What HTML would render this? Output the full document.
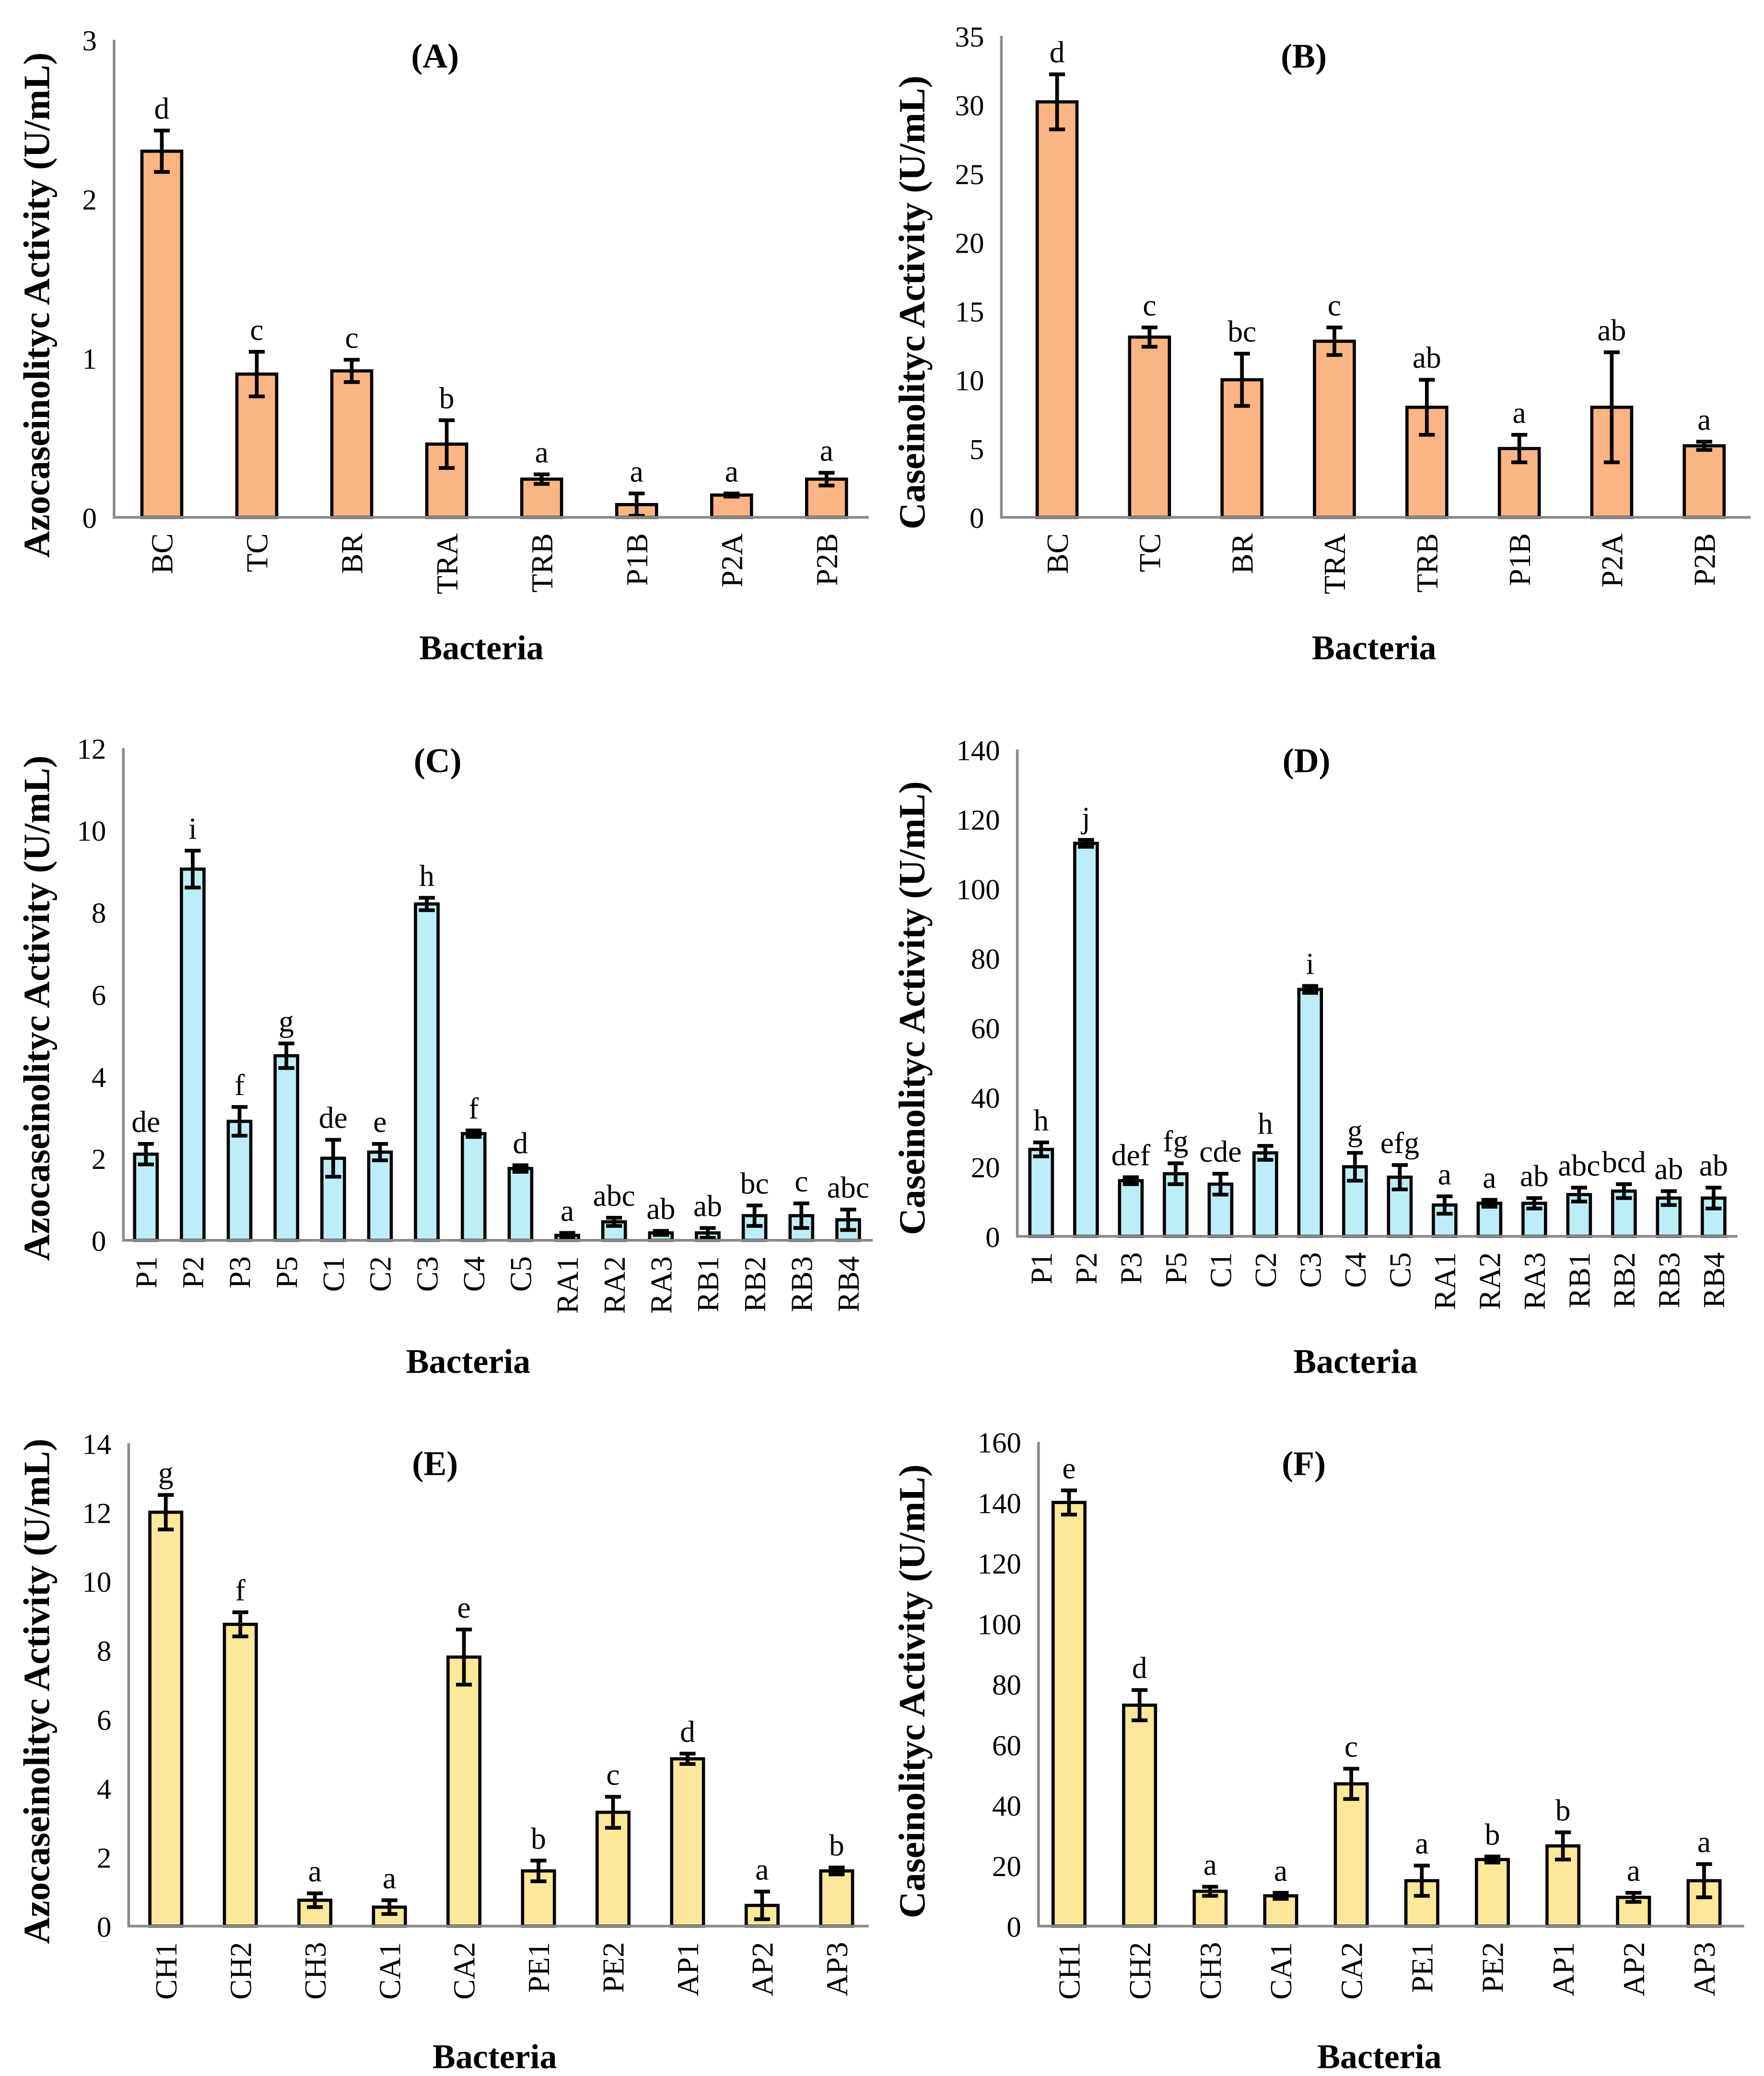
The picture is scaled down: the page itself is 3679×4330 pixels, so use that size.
<!DOCTYPE html>
<html><head><meta charset="utf-8"><style>
html,body{margin:0;padding:0;background:#fff;}
svg{display:block;font-family:"Liberation Serif",serif;}
</style></head><body>
<svg id="fig" xmlns="http://www.w3.org/2000/svg" width="3679" height="4330" viewBox="0 0 1330 1565" preserveAspectRatio="none"></svg>
<script>
// ---- Panel A ----
const catsA = ["BC","TC","BR","TRA","TRB","P1B","P2A","P2B"];
const valsA = [2.30,0.90,0.92,0.46,0.24,0.08,0.14,0.24];
const errsA = [0.13,0.14,0.07,0.15,0.03,0.07,0.01,0.04];
const letsA = ["d","c","c","b","a","a","a","a"];
const ticksA = [0,1,2,3];
// ---- Panel B ----
const catsB = ["BC","TC","BR","TRA","TRB","P1B","P2A","P2B"];
const valsB = [30.2,13.1,10.0,12.8,8.0,5.0,8.0,5.2];
const errsB = [2.0,0.7,1.9,1.0,2.0,1.0,4.0,0.3];
const letsB = ["d","c","bc","c","ab","a","ab","a"];
const ticksB = [0,5,10,15,20,25,30,35];
// ---- Panel C ----
const catsC = ["P1","P2","P3","P5","C1","C2","C3","C4","C5","RA1","RA2","RA3","RB1","RB2","RB3","RB4"];
const valsC = [2.1,9.05,2.9,4.5,2.0,2.15,8.2,2.6,1.75,0.12,0.45,0.18,0.18,0.6,0.6,0.5];
const errsC = [0.25,0.45,0.35,0.3,0.45,0.2,0.15,0.08,0.08,0.06,0.1,0.05,0.12,0.25,0.3,0.25];
const letsC = ["de","i","f","g","de","e","h","f","d","a","abc","ab","ab","bc","c","abc"];
const ticksC = [0,2,4,6,8,10,12];
// ---- Panel D ----
const catsD = ["P1","P2","P3","P5","C1","C2","C3","C4","C5","RA1","RA2","RA3","RB1","RB2","RB3","RB4"];
const valsD = [25,113,16,18,15,24,71,20,17,9,9.5,9.5,12,13,11,11];
const errsD = [2,1,1,3,3,2,1,4,3.5,2.5,1,1.5,2,2,2,3];
const letsD = ["h","j","def","fg","cde","h","i","g","efg","a","a","ab","abc","bcd","ab","ab"];
const ticksD = [0,20,40,60,80,100,120,140];
// ---- Panel E ----
const catsE = ["CH1","CH2","CH3","CA1","CA2","PE1","PE2","AP1","AP2","AP3"];
const valsE = [12.0,8.75,0.75,0.55,7.8,1.6,3.3,4.85,0.6,1.6];
const errsE = [0.5,0.35,0.2,0.2,0.8,0.3,0.45,0.15,0.4,0.1];
const letsE = ["g","f","a","a","e","b","c","d","a","b"];
const ticksE = [0,2,4,6,8,10,12,14];
// ---- Panel F ----
const catsF = ["CH1","CH2","CH3","CA1","CA2","PE1","PE2","AP1","AP2","AP3"];
const valsF = [140,73,11.5,10,47,15,22,26.5,9.5,15];
const errsF = [4,5,1.5,1,5,5,1,4.5,1.5,5.5];
const letsF = ["e","d","a","a","c","a","b","b","a","a"];
const ticksF = [0,20,40,60,80,100,120,140,160];

const NS="http://www.w3.org/2000/svg";
const svg=document.getElementById('fig');
function mk(tag,parent,attrs){const e=document.createElementNS(NS,tag);for(const k in attrs)e.setAttribute(k,attrs[k]);parent.appendChild(e);return e;}

function panel(id,cats,vals,errs,lets,ticks,L,fill,ytitle,title){
  const g=mk('g',svg,{});
  
  
  const ymax=ticks[ticks.length-1];
  const y=v=>L.y0-(v/ymax)*(L.y0-L.yt);
  const x=i=>L.x1+i*L.dx;
  ticks.forEach(t=>{
    const tx=mk('text',g,{x:L.ax-13,y:y(t)+8,'text-anchor':'end','font-size':22,fill:'#000'});
    tx.textContent=t;
    
    
  });
  cats.forEach((c,i)=>{
    const cx=x(i),top=y(vals[i]);
    const r=mk('rect',g,{x:cx-L.bw/2,y:top,width:L.bw,height:L.y0-top,fill:fill,stroke:'#000','stroke-width':2.4});
    
    
    const eh=y(vals[i]+errs[i]),el=y(Math.max(0,vals[i]-errs[i]));
    const eb=mk('path',g,{d:`M${cx},${eh}V${el}M${cx-6},${eh}H${cx+6}M${cx-6},${el}H${cx+6}`,stroke:'#000','stroke-width':2.8,fill:'none'});
    
    
    const lt=mk('text',g,{x:cx,y:eh-9,'text-anchor':'middle','font-size':23,fill:'#000'});
    lt.textContent=lets[i];
    
    
    const xl=mk('text',g,{x:0,y:0,'text-anchor':'end','font-size':23,fill:'#000',transform:`translate(${cx+8},${L.y0+12}) rotate(-90)`});
    xl.textContent=c;
    
    
  });
  const ax=mk('path',g,{d:`M${L.ax},${L.yt}V${L.y0}H${L.xe}`,stroke:'#8a8a8a','stroke-width':2,fill:'none'});
  
  
  const tt=mk('text',g,{x:L.tx,y:L.ty,'text-anchor':'middle','font-size':26,'font-weight':'bold'});
  tt.textContent=title;
  
  
  const yl=mk('text',g,{x:0,y:0,'text-anchor':'middle','font-size':28,'font-weight':'bold',transform:`translate(${L.ylx},${L.yly}) rotate(-90)`});
  yl.textContent=ytitle;
  
  
  const xt=mk('text',g,{x:L.bx,y:L.by,'text-anchor':'middle','font-size':26,'font-weight':'bold'});
  xt.textContent='Bacteria';
  
  
}
const orange='#fbb584',cyan='#bdeef8',yellow='#fde79a';
const az='Azocaseinolityc Activity (U/mL)',ca='Caseinolityc Activity  (U/mL)';
panel('a',catsA,valsA,errsA,letsA,ticksA,{ax:86,xe:655,y0:390,yt:30,x1:122,dx:71.6,bw:30,tx:328,ty:51,ylx:37,yly:230,bx:363,by:497},orange,az,'(A)');
panel('b',catsB,valsB,errsB,letsB,ticksB,{ax:755,xe:1320,y0:390,yt:27,x1:797,dx:69.7,bw:30,tx:983,ty:51,ylx:697,yly:228,bx:1036,by:497},orange,ca,'(B)');
panel('c',catsC,valsC,errsC,letsC,ticksC,{ax:93,xe:658,y0:935,yt:564,x1:110,dx:35.3,bw:17,tx:330,ty:582,ylx:37,yly:760,bx:353,by:1035},cyan,az,'(C)');
panel('d',catsD,valsD,errsD,letsD,ticksD,{ax:767,xe:1310,y0:932,yt:565,x1:785,dx:33.8,bw:17,tx:985,ty:582,ylx:697,yly:760,bx:1022,by:1035},cyan,'Caseinolityc Activity (U/mL)','(D)');
panel('e',catsE,valsE,errsE,letsE,ticksE,{ax:97,xe:655,y0:1452,yt:1088,x1:125,dx:56.2,bw:24,tx:328,ty:1112,ylx:37,yly:1275,bx:373,by:1559},yellow,az,'(E)');
panel('f',catsF,valsF,errsF,letsF,ticksF,{ax:783,xe:1315,y0:1452,yt:1087,x1:806,dx:53.2,bw:24,tx:983,ty:1112,ylx:697,yly:1275,bx:1040,by:1559},yellow,'Caseinolityc Activity (U/mL)','(F)');
</script>
</body></html>
